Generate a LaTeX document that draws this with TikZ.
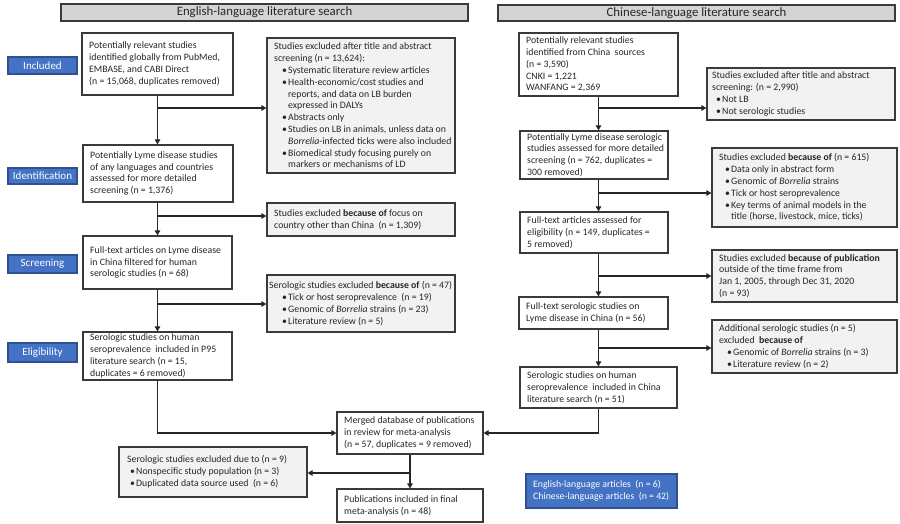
\documentclass[tikz,border=0pt]{standalone}
\usepackage{fontspec}
\setmainfont{Carlito}
\usetikzlibrary{arrows.meta}
\definecolor{blu}{HTML}{4472C4}
\definecolor{bluedge}{HTML}{2F528F}
\definecolor{hdr}{HTML}{D4D4D4}
\definecolor{exf}{HTML}{F2F2F2}
\definecolor{edg}{HTML}{3A3A3A}
\definecolor{txc}{HTML}{262626}
\newcommand\bodyfont{\fontsize{9.8}{11.8}\selectfont}
\newcommand\cnfont{\fontsize{9.8}{11.2}\selectfont}
\newcommand\hdrfont{\fontsize{12.8}{14}\selectfont}
\newcommand\stgfont{\fontsize{11}{13}\selectfont}
\newcommand\bi[1]{\hspace*{#1pt}\makebox[6pt][l]{\textbullet}}
\newcommand\bc[1]{\hspace*{#1pt}\hspace*{6pt}}
\newcommand\mybox[8][6]{%
  \pgfmathsetmacro\bw{#6-#4}\pgfmathsetmacro\bh{#7-#5}%
  \node[#3, minimum width=\bw pt, minimum height=\bh pt, inner sep=0pt] (#2) at ({(#4+#6)/2},{(#5+#7)/2}) {};
  \node[txt, anchor=west] (#2t) at ({#4+#1},{(#5+#7)/2}) {#8};
}
\tikzset{
  wbox/.style={draw=edg, line width=1.2pt, fill=white},
  gbox/.style={draw=edg, line width=1.2pt, fill=exf},
  hbox/.style={draw=edg, line width=1.2pt, fill=hdr, font=\hdrfont, text=txc},
  sbox/.style={draw=bluedge, line width=1.2pt, fill=blu, text=white, font=\stgfont},
  rbox/.style={draw=bluedge, line width=1.2pt, fill=blu},
  txt/.style={align=left, inner sep=0pt, text=txc, font=\bodyfont},
  arr/.style={draw=txc, line width=1.1pt, -{Triangle[length=5pt,width=5.5pt]}}
}
\begin{document}
\begin{tikzpicture}[x=1pt,y=-1pt]
\useasboundingbox (0,0) rectangle (900,524);
% headers
\node[hbox, minimum width=407pt, minimum height=17pt, inner sep=0pt] (hE) at (264.5,12.5) {English-language literature search};
\node[hbox, minimum width=397pt, minimum height=16pt, inner sep=0pt] (hC) at (696.5,13) {Chinese-language literature search};
% stage labels
\node[sbox, minimum width=69pt, minimum height=17pt, inner sep=0pt] (sI) at (42.5,65.5) {Included};
\node[sbox, minimum width=69pt, minimum height=16pt, inner sep=0pt] (sId) at (42.5,176) {Identification};
\node[sbox, minimum width=69pt, minimum height=18pt, inner sep=0pt] (sS) at (42.5,264) {Screening};
\node[sbox, minimum width=69pt, minimum height=19pt, inner sep=0pt] (sE) at (42.5,352.5) {Eligibility};
% English column
\mybox[7]{E1}{wbox}{82}{33}{233}{95}{Potentially relevant studies\\identified globally from PubMed,\\EMBASE, and CABI Direct\\(n = 15,068, duplicates removed)}
\mybox[7]{X1}{gbox}{267}{38}{455}{173}{Studies excluded after title and abstract\\
screening (n = 13,624):\\
\bi{8}Systematic literature review articles\\
\bi{8}Health-economic/cost studies and\\
\bc{8}reports, and data on LB burden\\
\bc{8}expressed in DALYs\\
\bi{8}Abstracts only\\
\bi{8}Studies on LB in animals, unless data on\\
\bc{8}\textit{Borrelia}-infected ticks were also included\\
\bi{8}Biomedical study focusing purely on\\
\bc{8}markers or mechanisms of LD}
\mybox[7]{E2}{wbox}{83}{145}{233}{202}{Potentially Lyme disease studies\\of any languages and countries\\assessed for more detailed\\screening (n = 1,376)}
\mybox[7]{X2}{gbox}{267}{203}{455}{236}{Studies excluded \textbf{because of} focus on\\country other than China\ \ (n = 1,309)}
\mybox[7]{E3}{wbox}{83}{236}{232}{289}{Full-text articles on Lyme disease\\in China filtered for human\\serologic studies (n = 68)}
\mybox[2]{X3}{gbox}{267}{275}{455}{332}{Serologic studies excluded \textbf{because of} (n = 47)\\
\bi{13}Tick or host seroprevalence\ \ (n = 19)\\
\bi{13}Genomic of \textit{Borrelia} strains (n = 23)\\
\bi{13}Literature review (n = 5)}
\mybox[7]{E4}{wbox}{83}{332}{232}{380}{Serologic studies on human\\seroprevalence\ \ included in P95\\literature search (n = 15,\\duplicates = 6 removed)}
\mybox[7]{M}{wbox}{337}{412}{483}{454}{Merged database of publications\\in review for meta-analysis\\(n = 57, duplicates = 9 removed)}
\mybox[8]{XM}{gbox}{119}{447}{307}{497}{Serologic studies excluded due to (n = 9)\\
\bi{3}Nonspecific study population (n = 3)\\
\bi{3}Duplicated data source used\ \ (n = 6)}
\mybox[7]{F}{wbox}{337}{489}{483}{522}{Publications included in final\\meta-analysis (n = 48)}
% Chinese column
\mybox[7]{C1}{wbox}{519}{33}{678}{96}{\cnfont Potentially relevant studies\\identified from China\ \ sources\\(n = 3,590)\\CNKI = 1,221\\WANFANG = 2,369}
\mybox[5]{Y1}{gbox}{707}{68}{895}{120}{Studies excluded after title and abstract\\screening: (n = 2,990)\\
\bi{4}Not LB\\
\bi{4}Not serologic studies}
\mybox[7]{C2}{wbox}{520}{131}{668}{179}{Potentially Lyme disease serologic\\studies assessed for more detailed\\screening (n = 762, duplicates =\\300 removed)}
\mybox[7]{Y2}{gbox}{712}{148}{897}{227}{Studies excluded \textbf{because of} (n = 615)\\
\bi{6}Data only in abstract form\\
\bi{6}Genomic of \textit{Borrelia} strains\\
\bi{6}Tick or host seroprevalence\\
\bi{6}Key terms of animal models in the\\
\bc{6}title (horse, livestock, mice, ticks)}
\mybox[7]{C3}{wbox}{520}{212}{668}{253}{Full-text articles assessed for\\eligibility (n = 149, duplicates =\\5 removed)}
\mybox[7]{Y3}{gbox}{712}{250}{897}{302}{Studies excluded \textbf{because of publication}\\outside of the time frame from\\Jan 1, 2005, through Dec 31, 2020\\(n = 93)}
\mybox[7]{C4}{wbox}{519}{297}{668}{329}{Full-text serologic studies on\\Lyme disease in China (n = 56)}
\mybox[7]{Y4}{gbox}{712}{320}{897}{373}{Additional serologic studies (n = 5)\\excluded\ \ \textbf{because of}\\
\bi{8}Genomic of \textit{Borrelia} strains (n = 3)\\
\bi{8}Literature review (n = 2)}
\mybox[7]{C5}{wbox}{520}{367}{677}{408}{Serologic studies on human\\seroprevalence\ \ included in China\\literature search (n = 51)}
\mybox[7]{R}{rbox}{526}{474}{677}{508}{\color{white}English-language articles\ \ (n = 6)\\\color{white}Chinese-language articles\ \ (n = 42)}
% branch points
\coordinate (b1) at (E1.south |- 0,108);
\coordinate (b2) at (E1.south |- 0,216);
\coordinate (b3) at (E1.south |- 0,304);
\coordinate (c1) at (C1.south |- 0,108);
\coordinate (c2) at (C1.south |- 0,193);
\coordinate (c3) at (C1.south |- 0,276);
\coordinate (c4) at (C1.south |- 0,348);
\coordinate (m1) at (M.south |- 0,473);
% English connectors
\draw[arr] (E1.south) -- (E1.south |- E2.north);
\draw[arr] (b1) -- (b1 -| X1.west);
\draw[arr] (E1.south |- E2.south) -- (E1.south |- E3.north);
\draw[arr] (b2) -- (b2 -| X2.west);
\draw[arr] (E1.south |- E3.south) -- (E1.south |- E4.north);
\draw[arr] (b3) -- (b3 -| X3.west);
\draw[arr] (E1.south |- E4.south) |- (M.west);
% Chinese connectors
\draw[arr] (C1.south) -- (C1.south |- C2.north);
\draw[arr] (c1) -- (c1 -| Y1.west);
\draw[arr] (C1.south |- C2.south) -- (C1.south |- C3.north);
\draw[arr] (c2) -- (c2 -| Y2.west);
\draw[arr] (C1.south |- C3.south) -- (C1.south |- C4.north);
\draw[arr] (c3) -- (c3 -| Y3.west);
\draw[arr] (C1.south |- C4.south) -- (C1.south |- C5.north);
\draw[arr] (c4) -- (c4 -| Y4.west);
\draw[arr] (C1.south |- C5.south) |- (M.east);
% merged
\draw[arr] (M.south) -- (F.north);
\draw[arr] (m1) -- (m1 -| XM.east);
\end{tikzpicture}
\end{document}
